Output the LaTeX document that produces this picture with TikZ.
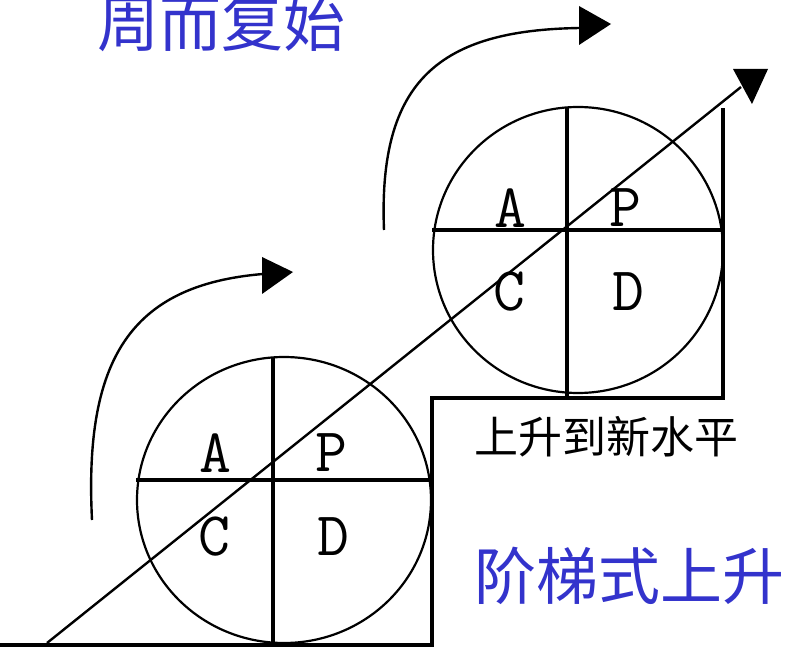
\documentclass[tikz,border=0pt]{standalone}
\usepackage{fontspec}
\newfontfamily\cjk{Noto Sans CJK SC}
\definecolor{titleblue}{RGB}{51,51,204}
\begin{document}
\begin{tikzpicture}[x=1pt,y=-1pt,
  thinline/.style={line width=2.2pt},
  divline/.style={line width=3.6pt},
  stepline/.style={line width=4pt},
  flowline/.style={line width=2.4pt},
  tipfill/.style={fill=black},
  bluetext/.style={text=titleblue,font=\cjk\fontsize{62}{62}\selectfont,inner sep=0pt},
  blacktext/.style={text=black,font=\cjk\fontsize{44}{44}\selectfont,inner sep=0pt},
  letter/.style={font=\ttfamily\fontsize{62}{62}\selectfont,inner sep=0pt}]
\useasboundingbox (0,0) rectangle (787,652);

% step outline
\coordinate (s0) at (0,645);
\coordinate (s1) at (432,645);
\coordinate (s2) at (432,398);
\coordinate (s3) at (723,398);
\coordinate (s4) at (723,108);
\draw[stepline] (s0) -- (s1) -- (s2) -- (s3) -- (s4);

% lower PDCA wheel
\draw[thinline] (284,500) ellipse [x radius=147, y radius=143];
\coordinate (lvT) at (273,357);
\coordinate (lvB) at (273,645);
\coordinate (lhL) at (136,480);
\coordinate (lhR) at (432,480);
\draw[divline] (lvT) -- (lvB);
\draw[divline] (lhL) -- (lhR);
\node[letter] (la) at (215,453) {A};
\node[letter] (lp) at (331,453) {P};
\node[letter] (lc) at (214,537) {C};
\node[letter] (ld) at (333,537) {D};

% upper PDCA wheel
\draw[thinline] (578,250) ellipse [x radius=145, y radius=143];
\coordinate (uvT) at (567,107);
\coordinate (uvB) at (567,398);
\coordinate (uhL) at (432,230);
\coordinate (uhR) at (723,230);
\draw[divline] (uvT) -- (uvB);
\draw[divline] (uhL) -- (uhR);
\node[letter] (ua) at (510,208) {A};
\node[letter] (up) at (625,208) {P};
\node[letter] (uc) at (509,292) {C};
\node[letter] (ud) at (628,292) {D};

% diagonal rising arrow
\coordinate (dStart) at (47,643);
\coordinate (dEnd) at (741,87);
\draw[flowline] (dStart) -- (dEnd);
\fill[tipfill] (733,69) -- (768,69) -- (752,104) -- cycle;

% lower cycle arrow
\coordinate (c1s) at (92,520);
\coordinate (c1e) at (263,274);
\draw[flowline] (c1s) .. controls (84,360) and (130,285) .. (c1e);
\fill[tipfill] (262,257) -- (293,272) -- (262,294) -- cycle;

% upper cycle arrow
\coordinate (c2s) at (384,230);
\coordinate (c2e) at (580,28);
\draw[flowline] (c2s) .. controls (378,80) and (440,30) .. (c2e);
\fill[tipfill] (579,6) -- (611,24) -- (579,45) -- cycle;

% texts
\node[bluetext] (t1) at (221,23) {周而复始};
\node[bluetext] (t2) at (629,576) {阶梯式上升};
\node[blacktext] (t3) at (606,437) {上升到新水平};
\end{tikzpicture}
\end{document}
